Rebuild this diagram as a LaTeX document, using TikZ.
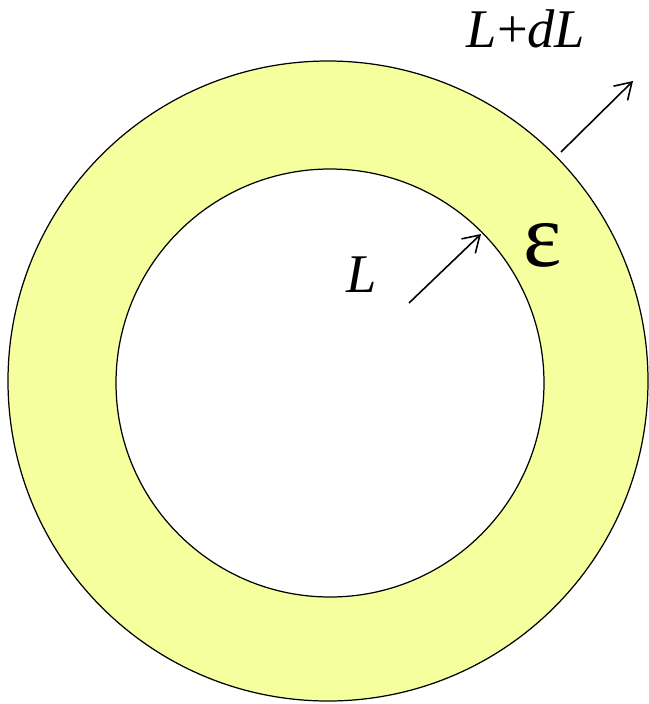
\documentclass[tikz,border=0pt]{standalone}
\usepackage{fontspec}
\setmainfont{Liberation Serif}
\usepackage{xcolor}
\usetikzlibrary{arrows.meta}
\definecolor{ringyellow}{RGB}{245,255,158}

\begin{document}
\begin{tikzpicture}[x=0.02cm, y=-0.02cm, line width=0.7pt,
  growarrow/.style={line width=0.9pt, -{Straight Barb[length=3.2mm, width=4mm]}},
  lengthlabel/.style={inner sep=0pt, font=\fontsize{31}{31}\selectfont}]
  \useasboundingbox (0,0) rectangle (649,704);
  % ring between L and L+dL
  \draw[fill=ringyellow] (328,381) circle[radius=320];
  \draw[fill=white] (330,383) circle[radius=214];
  \coordinate (innertail) at (409,303);
  \coordinate (innerhead) at (481,234);
  \coordinate (outertail) at (561,152);
  \coordinate (outerhead) at (633,81);
  \draw[growarrow] (innertail) -- (innerhead);
  \draw[growarrow] (outertail) -- (outerhead);
  \node[lengthlabel] (innerlabel) at (362,275) {\textit{L}};
  \node[lengthlabel] (outerlabel) at (526,29) {\textit{L}+\textit{dL}};
  \node[inner sep=0pt, font=\fontsize{52}{52}\selectfont] (epslabel) at (543,245) {ε};
\end{tikzpicture}
\end{document}
